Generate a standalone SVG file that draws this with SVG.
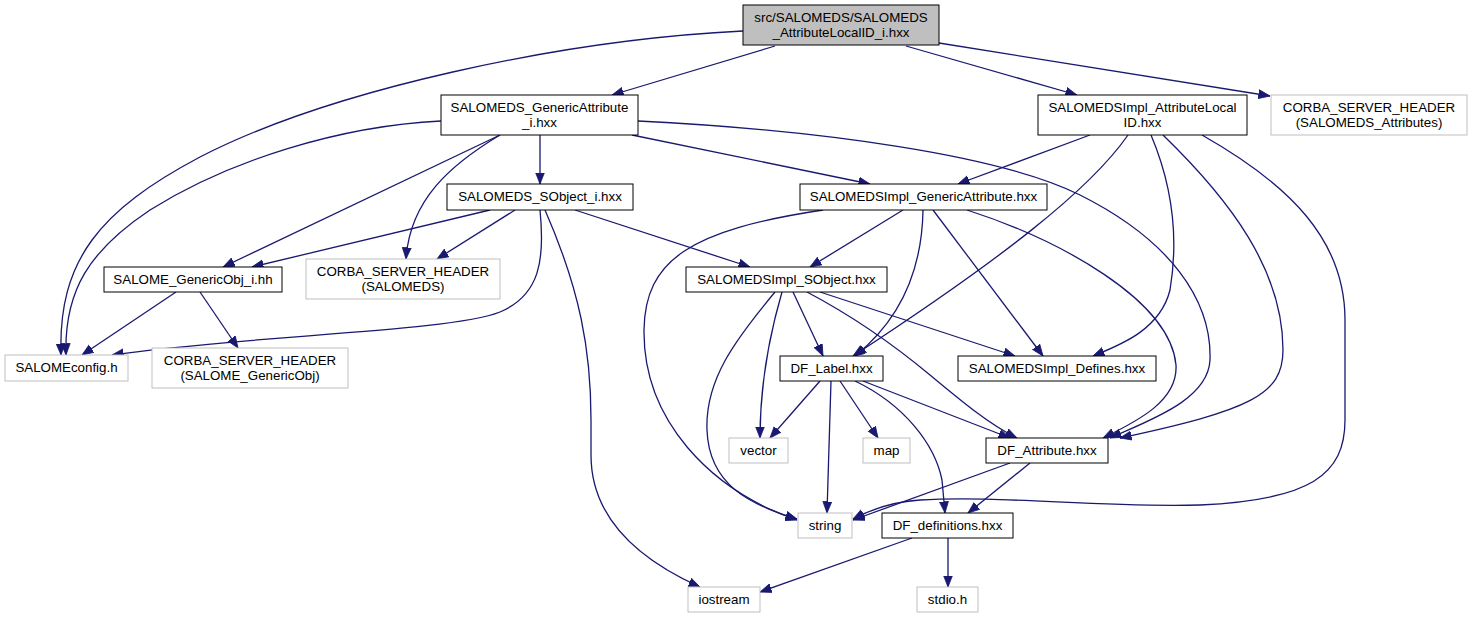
<svg xmlns="http://www.w3.org/2000/svg" width="1473" height="619" viewBox="0 0 1473 619">
<style>
.n rect{fill:#ffffff;stroke:#000000;stroke-width:1}
.g rect{fill:#ffffff;stroke:#bfbfbf;stroke-width:1}
.root rect{fill:#bfbfbf;stroke:#000000;stroke-width:1}
text{font-family:"Liberation Sans",Arial,sans-serif;font-size:13.33px;fill:#000000;text-anchor:middle}
.e path{fill:none;stroke:#191970;stroke-width:1.3;marker-end:url(#ah)}
</style>
<defs>
<marker id="ah" markerUnits="userSpaceOnUse" markerWidth="13" markerHeight="11" refX="11.5" refY="5" orient="auto">
<path d="M0,0.5 L11.5,5 L0,9.5 z" fill="#191970" stroke="#191970" stroke-width="0.8"/>
</marker>
</defs>
<rect width="1473" height="619" fill="#ffffff"/>
<g id="edges" class="e">
<path d="M743,31 C560,40 330,90 200,157 C100,210 58,260 61,355"/>
<path d="M775,46 L612,95"/>
<path d="M906,46 L1077,95"/>
<path d="M939,43 L1270,96"/>
<path d="M441,121 C340,126 230,160 150,210 C90,250 64,290 66,355"/>
<path d="M500,135 L223,267"/>
<path d="M500,135 C450,165 410,200 406,259"/>
<path d="M540,135 L540,184"/>
<path d="M632,135 L870,184"/>
<path d="M638,121 C820,130 1000,155 1080,195 C1170,240 1212,300 1210,360 C1208,400 1150,420 1110,438"/>
<path d="M490,210 L252,267"/>
<path d="M515,210 L437,259"/>
<path d="M540,210 C545,260 540,295 500,312 C450,332 250,335 112,355"/>
<path d="M575,210 L750,267"/>
<path d="M545,210 C580,290 591,350 591,420 L591,455 C591,520 640,560 700,587"/>
<path d="M1090,135 L958,184"/>
<path d="M1128,135 C1090,190 1000,260 853,356"/>
<path d="M1151,135 C1170,180 1180,230 1170,290 C1160,330 1120,345 1093,356"/>
<path d="M1163,135 C1230,200 1283,270 1283,350 C1283,395 1250,410 1120,438"/>
<path d="M1202,135 C1290,185 1345,240 1345,320 L1345,420 C1345,475 1310,500 1200,505 C1100,508 1000,495 920,500 C890,502 870,510 853,519"/>
<path d="M823,210 C690,230 645,260 644,330 C643,420 710,490 797,520"/>
<path d="M903,210 L810,267"/>
<path d="M923,210 C922,270 900,320 855,356"/>
<path d="M933,210 L1043,356"/>
<path d="M967,210 C1060,240 1170,300 1176,365 C1178,400 1140,420 1103,438"/>
<path d="M176,292 L82,355"/>
<path d="M200,292 L238,348"/>
<path d="M793,292 L823,356"/>
<path d="M782,292 C768,340 760,390 760,438"/>
<path d="M820,292 L1015,356"/>
<path d="M807,292 C860,320 900,350 930,375 C960,400 990,425 1017,438"/>
<path d="M775,292 C735,340 705,380 707,430 C709,485 750,505 797,519"/>
<path d="M820,381 L770,438"/>
<path d="M831,381 L827,513"/>
<path d="M840,381 L878,438"/>
<path d="M863,381 L1010,438"/>
<path d="M855,381 C905,405 935,445 942,480 L945,513"/>
<path d="M1010,463 L853,520"/>
<path d="M1030,463 L968,513"/>
<path d="M912,538 L760,592"/>
<path d="M948,538 L948,587"/>
</g>
<g id="root" class="root"><rect x="743" y="5" width="196" height="40"/><text x="841" y="22">src/SALOMEDS/SALOMEDS</text><text x="841" y="37">_AttributeLocalID_i.hxx</text></g>
<g id="gai" class="n"><rect x="441" y="95" width="197" height="40"/><text x="539.5" y="112">SALOMEDS_GenericAttribute</text><text x="539.5" y="127">_i.hxx</text></g>
<g id="ali" class="n"><rect x="1038" y="95" width="209" height="40"/><text x="1142.5" y="112">SALOMEDSImpl_AttributeLocal</text><text x="1142.5" y="127">ID.hxx</text></g>
<g id="csa" class="g"><rect x="1271" y="95" width="196" height="40"/><text x="1369" y="112">CORBA_SERVER_HEADER</text><text x="1369" y="127">(SALOMEDS_Attributes)</text></g>
<g id="soi" class="n"><rect x="447" y="184" width="186" height="26"/><text x="540" y="201">SALOMEDS_SObject_i.hxx</text></g>
<g id="iga" class="n"><rect x="800" y="184" width="247" height="26"/><text x="923.5" y="201">SALOMEDSImpl_GenericAttribute.hxx</text></g>
<g id="gobj" class="n"><rect x="104" y="267" width="178" height="25"/><text x="193" y="284">SALOME_GenericObj_i.hh</text></g>
<g id="cs" class="g"><rect x="306" y="259" width="194" height="40"/><text x="403" y="276">CORBA_SERVER_HEADER</text><text x="403" y="291">(SALOMEDS)</text></g>
<g id="iso" class="n"><rect x="686" y="267" width="201" height="25"/><text x="786.5" y="284">SALOMEDSImpl_SObject.hxx</text></g>
<g id="cfg" class="g"><rect x="5" y="355" width="123" height="26"/><text x="66.5" y="372">SALOMEconfig.h</text></g>
<g id="csg" class="g"><rect x="152" y="348" width="196" height="40"/><text x="250" y="365">CORBA_SERVER_HEADER</text><text x="250" y="380">(SALOME_GenericObj)</text></g>
<g id="dfl" class="n"><rect x="780" y="356" width="103" height="25"/><text x="831.5" y="373">DF_Label.hxx</text></g>
<g id="def" class="n"><rect x="958" y="356" width="198" height="25"/><text x="1057" y="373">SALOMEDSImpl_Defines.hxx</text></g>
<g id="vec" class="g"><rect x="729" y="438" width="59" height="25"/><text x="758.5" y="455">vector</text></g>
<g id="map" class="g"><rect x="863" y="438" width="47" height="25"/><text x="886.5" y="455">map</text></g>
<g id="dfa" class="n"><rect x="986" y="438" width="122" height="25"/><text x="1047" y="455">DF_Attribute.hxx</text></g>
<g id="str" class="g"><rect x="798" y="513" width="54" height="25"/><text x="825" y="530">string</text></g>
<g id="dfd" class="n"><rect x="882" y="513" width="131" height="25"/><text x="947.5" y="530">DF_definitions.hxx</text></g>
<g id="ios" class="g"><rect x="688" y="587" width="72" height="25"/><text x="724" y="604">iostream</text></g>
<g id="stdio" class="g"><rect x="917" y="587" width="61" height="25"/><text x="947.5" y="604">stdio.h</text></g>
</svg>
